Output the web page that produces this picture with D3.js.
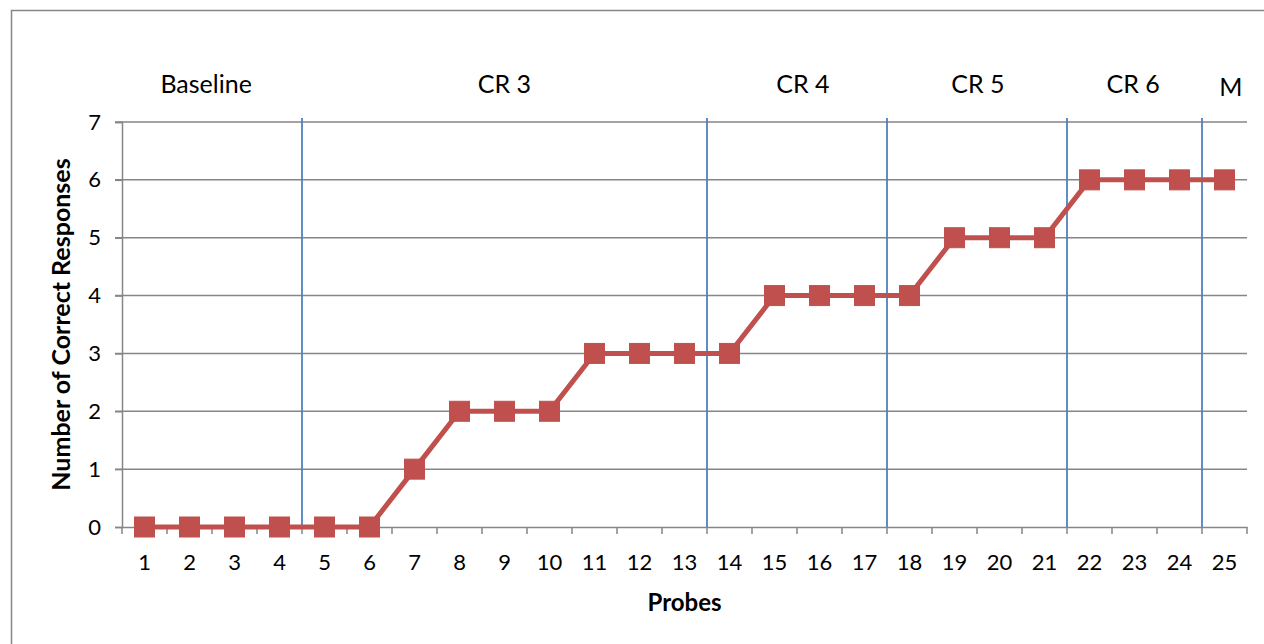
<!DOCTYPE html>
<html>
<head>
<meta charset="utf-8">
<script src="https://cdn.jsdelivr.net/npm/d3@7"></script>
<style>
body{margin:0;background:#fff}
text{font-family:Lato,"Open Sans",sans-serif;fill:#000}
</style>
</head>
<body>
<div id="chart"></div>
<script>
var probes = d3.range(1,26).map(String)
var correct = [0,0,0,0,0,0,1,2,2,2,3,3,3,3,4,4,4,4,5,5,5,6,6,6,6]
var yTicks = [0,1,2,3,4,5,6,7]
// phase change lines sit after these probes
var phaseAfter = [4,13,17,21,24]
var phaseNames = ["Baseline","CR 3","CR 4","CR 5","CR 6","M"]
var phaseLabelAt = [2.37,9.0,15.63,19.52,22.97,25.14] // probe units

var W=1264,H=644
var m={left:122,right:17,top:122,bottom:117}

var svg=d3.select("#chart").append("svg").attr("width",W).attr("height",H)

svg.append("rect").attr("x",11.5).attr("y",10.5).attr("width",W).attr("height",H)
	.attr("fill","none").attr("stroke","#868686").attr("stroke-width",1.5)

var x=d3.scaleBand().domain(probes).range([m.left,W-m.right])
var y=d3.scaleLinear().domain([0,7]).range([H-m.bottom,m.top])
var bw=x.bandwidth()
var cx=function(i){return x(probes[i])+bw/2}

// gridlines
svg.append("g").selectAll("line").data(yTicks.slice(1)).enter().append("line")
	.attr("x1",m.left-7).attr("x2",W-m.right)
	.attr("y1",function(d){return y(d)}).attr("y2",function(d){return y(d)})
	.attr("stroke","#868686").attr("stroke-width",1.5)

// y axis
var yAx=svg.append("g").attr("transform","translate("+m.left+",0)")
	.call(d3.axisLeft(y).tickValues(yTicks).tickFormat(d3.format("d")).tickSize(7).tickPadding(14))
yAx.select(".domain").attr("stroke","#868686").attr("stroke-width",1.5)
yAx.selectAll(".tick line").attr("stroke","#868686").attr("stroke-width",1.5)
yAx.selectAll("text").style("font-size","22px").attr("font-family","Lato")

// x axis
var xAx=svg.append("g").attr("transform","translate(0,"+y(0)+")")
	.call(d3.axisBottom(x).tickSize(0).tickPadding(27))
xAx.select(".domain").attr("stroke","#868686").attr("stroke-width",1.5)
xAx.selectAll("text").style("font-size","22px").attr("font-family","Lato")
svg.append("g").selectAll("line").data(d3.range(0,26)).enter().append("line")
	.attr("x1",function(d){return m.left+d*bw}).attr("x2",function(d){return m.left+d*bw})
	.attr("y1",y(0)).attr("y2",y(0)+7).attr("stroke","#868686").attr("stroke-width",1.5)

// phase lines
svg.append("g").selectAll("line").data(phaseAfter).enter().append("line")
	.attr("x1",function(d){return m.left+d*bw}).attr("x2",function(d){return m.left+d*bw})
	.attr("y1",y(7)-4).attr("y2",y(0))
	.attr("stroke","#4F81BD").attr("stroke-width",1.8)

// phase labels
svg.append("g").selectAll("text").data(phaseNames).enter().append("text")
	.attr("x",function(d,i){return m.left+(phaseLabelAt[i]-0.5)*bw})
	.attr("y",function(d,i){return i==5?96:93})
	.attr("text-anchor","middle").style("font-size","25px").text(function(d){return d})

// series
var line=d3.line().x(function(d,i){return cx(i)}).y(function(d){return y(d)})
svg.append("path").datum(correct).attr("d",line).attr("fill","none")
	.attr("stroke","#C0504D").attr("stroke-width",5).attr("stroke-linejoin","round")
svg.append("g").selectAll("rect").data(correct).enter().append("rect")
	.attr("x",function(d,i){return cx(i)-10}).attr("y",function(d){return y(d)-10})
	.attr("width",20).attr("height",20).attr("fill","#C0504D").attr("stroke","#C0504D")

// axis titles
svg.append("text").attr("x",m.left+(W-m.left-m.right)/2).attr("y",611)
	.attr("text-anchor","middle").style("font-size","24px").style("font-weight","bold").text("Probes")
svg.append("text").attr("transform","translate(70,"+(y(3.5))+") rotate(-90)")
	.attr("text-anchor","middle").style("font-size","25px").style("font-weight","bold")
	.text("Number of Correct Responses")
</script>
</body>
</html>
